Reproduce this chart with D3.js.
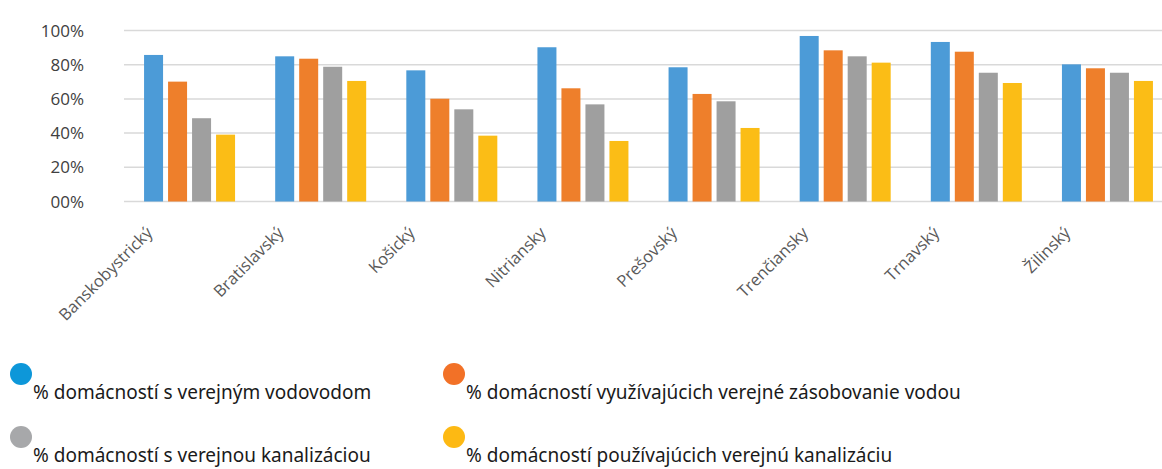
<!DOCTYPE html>
<html>
<head>
<meta charset="utf-8">
<script src="https://cdn.jsdelivr.net/npm/d3@7"></script>
<style>
  body { margin: 0; background: #fff; }
  svg { display: block; }
</style>
</head>
<body>
<svg id="chart" width="1162" height="469"></svg>
<script>
// regions (kraje)
const regions = ["Banskobystrický", "Bratislavský", "Košický", "Nitriansky",
                 "Prešovský", "Trenčiansky", "Trnavský", "Žilinský"];

const seriesNames = [
    "% domácností s verejným vodovodom",
    "% domácností využívajúcich verejné zásobovanie vodou",
    "% domácností s verejnou kanalizáciou",
    "% domácností používajúcich verejnú kanalizáciu"
];

// values in %, one array per series, in region order
const vodovod     = [85.7, 84.9, 76.7, 90.2, 78.5, 96.8, 93.3, 80.2];
const zasobovanie = [70.1, 83.5, 60.1, 66.2, 62.9, 88.4, 87.6, 77.9];
const kanalizacia = [48.7, 78.8, 53.9, 56.8, 58.6, 84.9, 75.3, 75.3];
const pouzivajuci = [39.1, 70.5, 38.5, 35.4, 43.0, 81.2, 69.3, 70.5];

const yTicks = [0, 20, 40, 60, 80, 100];
const yTickLabels = ["00%", "20%", "40%", "60%", "80%", "100%"];

const barColors = ["#4c9bd7", "#ee7f2b", "#9f9f9f", "#fbbd16"];
const legendColors = ["#0d97d9", "#f27127", "#a7a8aa", "#fdb913"];

const allSeries = [vodovod, zasobovanie, kanalizacia, pouzivajuci];

const svg = d3.select("#chart");
const margin = { left: 124, top: 30.5, bottom: 201.5, right: 1173 };

const x0 = d3.scaleBand()
    .domain(regions)
    .range([margin.left, margin.right])
    .paddingInner(0)
    .paddingOuter(0);

const barW = 19, barStep = 24;
const x1 = d3.scaleBand()
    .domain(d3.range(4))
    .range([0, barStep * 4]);

const y = d3.scaleLinear()
    .domain([0, 100])
    .range([margin.bottom, margin.top]);

// gridlines
svg.append("g")
    .selectAll("line")
    .data(yTicks)
    .join("line")
    .attr("x1", margin.left)
    .attr("x2", 1162)
    .attr("y1", d => y(d))
    .attr("y2", d => y(d))
    .attr("stroke", "#d9d9d9")
    .attr("stroke-width", 1.5);

// y labels
svg.append("g")
    .selectAll("text")
    .data(yTicks)
    .join("text")
    .attr("x", 84)
    .attr("y", d => y(d))
    .attr("dy", "0.36em")
    .attr("text-anchor", "end")
    .attr("font-family", "Open Sans")
    .attr("font-size", "17px")
    .attr("fill", "#404040")
    .text((d, i) => yTickLabels[i]);

// bars
const groupW = barStep * 4 - (barStep - barW);
const gRegion = svg.append("g")
    .selectAll("g")
    .data(regions)
    .join("g")
    .attr("transform", d => `translate(${x0(d) + (x0.bandwidth() - groupW) / 2},0)`);

gRegion.selectAll("rect")
    .data((d, ri) => allSeries.map((s, si) => ({ si, v: s[ri] })))
    .join("rect")
    .attr("x", d => x1(d.si))
    .attr("y", d => y(d.v))
    .attr("width", barW)
    .attr("height", d => y(0) - y(d.v))
    .attr("fill", d => barColors[d.si]);

// x labels, rotated
const labelShift = -36;
svg.append("g")
    .selectAll("text")
    .data(regions)
    .join("text")
    .attr("transform", d => `translate(${x0(d) + x0.bandwidth() / 2 + labelShift},234) rotate(-45)`)
    .attr("text-anchor", "end")
    .attr("font-family", "Open Sans")
    .attr("font-size", "16.5px")
    .attr("fill", "#595959")
    .text(d => d);

// legend
const legendCols = [21, 454];
const legendRows = [374, 437];
const legend = svg.append("g")
    .selectAll("g")
    .data(seriesNames)
    .join("g")
    .attr("transform", (d, i) => `translate(${legendCols[i % 2]},${legendRows[Math.floor(i / 2)]})`);

legend.append("circle")
    .attr("r", 11)
    .attr("fill", (d, i) => legendColors[i]);

legend.append("text")
    .attr("x", 12)
    .attr("y", 25)
    .attr("font-family", "Noto Sans")
    .attr("font-size", "19px")
    .attr("fill", "#1a1a1a")
    .text(d => d);
</script>
</body>
</html>
